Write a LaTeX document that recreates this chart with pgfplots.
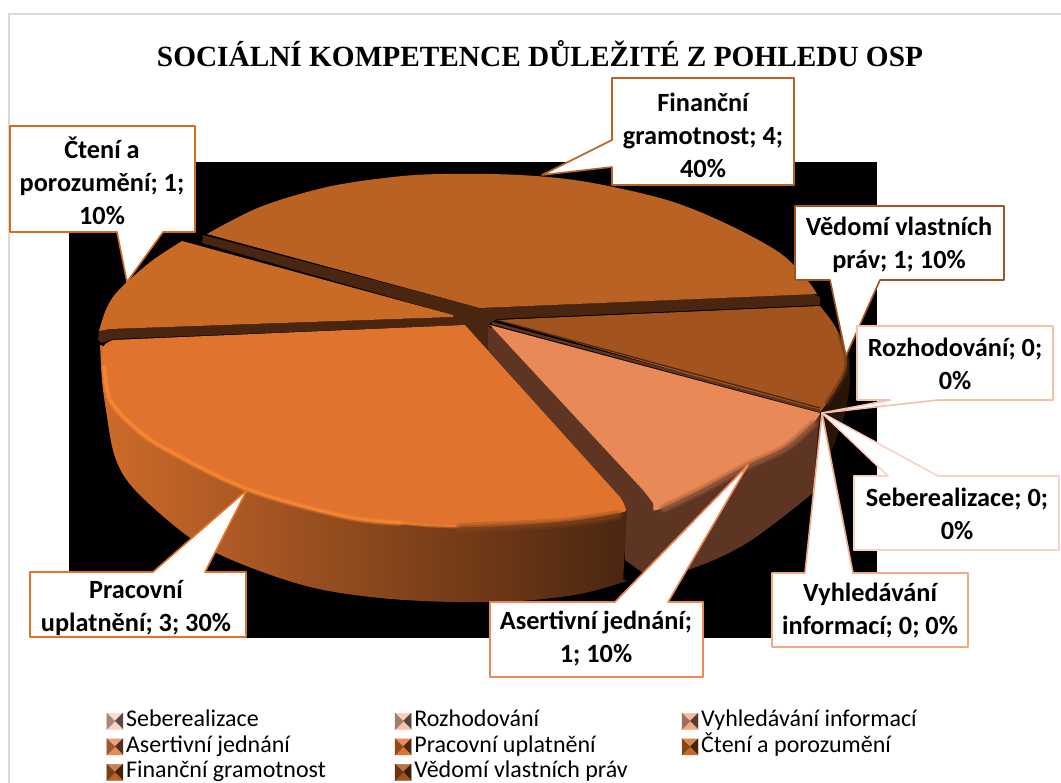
\documentclass[border=0pt]{standalone}
\usepackage{fontspec}
\setmainfont{Carlito}
\newfontfamily\titlefont{Liberation Serif}
\usepackage{pgfplots}
\pgfplotsset{compat=1.18}

\definecolor{cFin}{HTML}{B96224}
\definecolor{cCte}{HTML}{C96A25}
\definecolor{cPra}{HTML}{E0742E}
\definecolor{cHi}{HTML}{FF8A35}
\definecolor{cAse}{HTML}{EA8958}
\definecolor{cVed}{HTML}{A2531E}
\definecolor{cBand}{HTML}{4A2510}
\definecolor{cWall}{HTML}{5E3522}
\definecolor{cRoz}{HTML}{F5C0AC}
\definecolor{cSeb}{HTML}{FAD2C4}
\definecolor{cVyh}{HTML}{F3A988}

\newcommand{\bevel}[1]{%
  \fill[#1!80!white] (0pt,8pt)--(16pt,8pt)--(8pt,0pt)--cycle;
  \fill[#1!35!black] (16pt,8pt)--(16pt,-8pt)--(8pt,0pt)--cycle;
  \fill[#1] (0pt,-8pt)--(16pt,-8pt)--(8pt,0pt)--cycle;
  \fill[#1!65!black] (0pt,8pt)--(0pt,-8pt)--(8pt,0pt)--cycle;
}
\newcommand{\lbl}[3]{\node[font=\fontsize{26.3}{33}\selectfont\bfseries,align=center] at (axis cs:#1,#2) {#3};}

\begin{document}
\begin{tikzpicture}
\begin{axis}[
    width=1061pt, height=783pt, scale only axis,
    xmin=0, xmax=1061, ymin=0, ymax=783,
    y dir=reverse,
    hide axis, clip=false,
    arc/.style={draw=none, forget plot, smooth, tension=0.55},
    flat/.style={draw=none, forget plot},
    rim/.style={no markers, forget plot, smooth, tension=0.55, line cap=round},
    side/.style={left color=cPra!92!black, middle color=cPra!45!black!80!cBand, right color=black!35!cBand!85!cPra},
    callout/.style={fill=white, draw=#1, line width=1.6pt, line join=round, forget plot},
    legend columns=3,
    legend cell align=left,
    legend style={
        at={(0.0975,0.0975)}, anchor=north west,
        draw=none, fill=none,
        font=\fontsize{24}{25}\selectfont,
        nodes={text height=16pt, text depth=5pt},
        /tikz/every odd column/.append style={column sep=1pt},
        /tikz/column 2/.style={column sep=67pt},
        /tikz/column 4/.style={column sep=52pt},
        /tikz/row sep=0.5pt,
    },
]
% chart frame and plot area
\addplot[draw=gray!30, line width=2pt, forget plot] coordinates {(9,783) (9,14) (1061,14)};
\addplot[flat, fill=black] coordinates {(69,162) (877,162) (877,638) (69,638)} --cycle;

% dark inner walls
\addplot[flat, fill=cBand] coordinates {
 (203,235) (480,308) (813,294) (820,297) (820,305) (497,319) (490,323) (488,350)
 (465,325) (113,339) (102,343) (98,340) (99,331) (110,329) (453,317) (453,315) (202,243)} --cycle;

% each wedge: straight sides first, then its outer arc
% Financni gramotnost, 40 %
\addplot[flat, fill=cFin] coordinates {(207,234) (480,308) (817,294) (500,200)} --cycle;
\addplot[arc, fill=cFin] coordinates {
 (207,234) (260,207) (327,187) (393,177) (443,174) (520,175) (587,182) (667,200)
 (727,224) (780,253) (807,280) (817,294)};

% Cteni a porozumeni, 10 %
\addplot[flat, fill=cCte] coordinates {(182,241) (453,315) (453,317) (110,329) (99,331) (128,285)} --cycle;
\addplot[arc, fill=cCte] coordinates {(99,331) (105,312) (113,297) (127,282) (153,260) (182,241)};

% Vedomi vlastnich prav, 10 %
\addplot[flat, fill=black!75!cVed] coordinates {(847,350) (842,420) (813,493) (818,415)} --cycle;
\addplot[arc, fill=black!75!cVed] coordinates {(847,350) (850,380) (845,413) (833,447) (813,493)};
\addplot[flat, fill=cVed] coordinates {(497,320) (820,306) (840,360) (820,412)} --cycle;
\addplot[arc, fill=cVed] coordinates {(820,306) (833,323) (843,343) (847,360) (843,377) (827,403) (820,412)};
\addplot[rim, draw=cVed!55!black, line width=5pt, opacity=.5] coordinates {(840,335) (847,360) (843,377) (827,403)};

% Asertivni jednani, 10 %
\addplot[flat, fill=cWall] coordinates {
 (488,327) (488,350) (620,497) (625,507) (625,560) (643,573) (730,545) (813,493) (818,430) (820,413)} --cycle;
\addplot[arc, fill=cWall] coordinates {(643,573) (687,570) (747,543) (813,493)};
\addplot[flat, fill=cAse] coordinates {(490,325) (820,413) (720,475) (643,490)} --cycle;
\addplot[arc, fill=cAse] coordinates {
 (820,413) (813,423) (785,447) (747,465) (700,490) (657,510) (653,503) (643,490)};
\addplot[rim, draw=cAse!50!cWall, line width=9pt, opacity=.35] coordinates {(664,508) (700,491) (747,466) (785,448) (813,424)};
\addplot[rim, draw=cAse!50!cWall, line width=5pt, opacity=.5] coordinates {(664,508) (700,491) (747,466) (785,448) (813,424)};
\addplot[draw=cWall, line width=2.5pt, forget plot] coordinates {(492,323) (820,411)};
\addplot[draw=cBand, line width=1.2pt, forget plot] coordinates {(497,320) (820,408)};

% Pracovni uplatneni, 30 %
\addplot[flat, side] coordinates {(100,345) (400,590) (623,582) (627,510)} --cycle;
\addplot[arc, side] coordinates {
 (100,345) (102,380) (106,410) (115,457) (135,490) (189,537) (239,563) (310,587) (380,598)
 (453,602) (520,601) (580,594) (627,581)};
\addplot[flat, fill=cPra] coordinates {(465,325) (113,340) (350,500) (620,497)} --cycle;
\addplot[arc, fill=cPra] coordinates {
 (113,340) (103,347) (103,367) (110,400) (135,428) (167,450) (249,490) (346,517)
 (453,527) (560,522) (620,513) (625,507) (620,497)};
\addplot[rim, draw=cHi, line width=6pt, opacity=.3] coordinates {(104,367) (110,400) (135,428) (167,450) (249,490) (346,517) (400,523)};
\addplot[rim, draw=cHi, line width=3pt, opacity=.7] coordinates {(104,367) (110,400) (135,428) (167,450) (249,490) (346,517) (400,523)};
\addplot[rim, draw=cHi, line width=3pt, opacity=.35] coordinates {(400,523) (430,526) (460,527)};
\addplot[rim, draw=cPra!60!black, line width=10pt, opacity=.3] coordinates {(460,528) (560,523) (618,515)};
\addplot[rim, draw=cPra!60!black, line width=5pt, opacity=.5] coordinates {(460,528) (560,523) (618,515)};

% callouts
\addplot[callout=cFin] coordinates {(612,78) (794,78) (794,185) (612,185) (612,167) (542,175) (612,140)} --cycle;
\addplot[callout=cCte!85!orange] coordinates {(10,126) (195,126) (195,232) (163,232) (127,282) (117,232) (10,232)} --cycle;
\addplot[callout=cVed] coordinates {(795,206) (1004,206) (1004,280) (880,280) (846,356) (830,280) (795,280)} --cycle;
\addplot[callout=cRoz] coordinates {(857,326) (1053,326) (1053,400) (938,400) (822,413) (890,400) (857,400)} --cycle;
\addplot[callout=cSeb] coordinates {(854,476) (888,476) (822,413) (938,476) (1059,476) (1059,550) (854,550)} --cycle;
\addplot[callout=cVyh] coordinates {(772,573) (805,573) (822,413) (853,573) (968,573) (968,647) (772,647)} --cycle;
\addplot[callout=cAse] coordinates {(490,602) (615,602) (748,465) (668,602) (703,602) (703,677) (490,677)} --cycle;
\addplot[callout=cPra] coordinates {(30,572) (153,572) (247,490) (205,572) (246,572) (246,637) (30,637)} --cycle;

% title and data labels
\node[font=\titlefont\fontsize{29.3}{32}\selectfont\bfseries] at (axis cs:540,54) {SOCIÁLNÍ KOMPETENCE DŮLEŽITÉ Z POHLEDU OSP};
\lbl{703}{135}{Finanční\\gramotnost; 4;\\40\%}
\lbl{102}{181}{Čtení a\\porozumění; 1;\\10\%}
\lbl{899}{245}{Vědomí vlastních\\práv; 1; 10\%}
\lbl{955}{364}{Rozhodování; 0;\\0\%}
\lbl{957}{514}{Seberealizace; 0;\\0\%}
\lbl{870}{611}{Vyhledávání\\informací; 0; 0\%}
\lbl{596}{639}{Asertivní jednání;\\1; 10\%}
\lbl{136}{608}{Pracovní\\uplatnění; 3; 30\%}

% legend, row by row
\addlegendimage{legend image code/.code={\bevel{cSeb}}}\addlegendentry{Seberealizace}
\addlegendimage{legend image code/.code={\bevel{cRoz}}}\addlegendentry{Rozhodování}
\addlegendimage{legend image code/.code={\bevel{cVyh}}}\addlegendentry{Vyhledávání informací}
\addlegendimage{legend image code/.code={\bevel{cAse}}}\addlegendentry{Asertivní jednání}
\addlegendimage{legend image code/.code={\bevel{cPra}}}\addlegendentry{Pracovní uplatnění}
\addlegendimage{legend image code/.code={\bevel{cCte}}}\addlegendentry{Čtení a porozumění}
\addlegendimage{legend image code/.code={\bevel{cFin}}}\addlegendentry{Finanční gramotnost}
\addlegendimage{legend image code/.code={\bevel{cVed}}}\addlegendentry{Vědomí vlastních práv}
\end{axis}
% page is exactly the axis box
\pgfresetboundingbox
\path[use as bounding box] (0,0) rectangle (1061pt,783pt);
\end{tikzpicture}
\end{document}
